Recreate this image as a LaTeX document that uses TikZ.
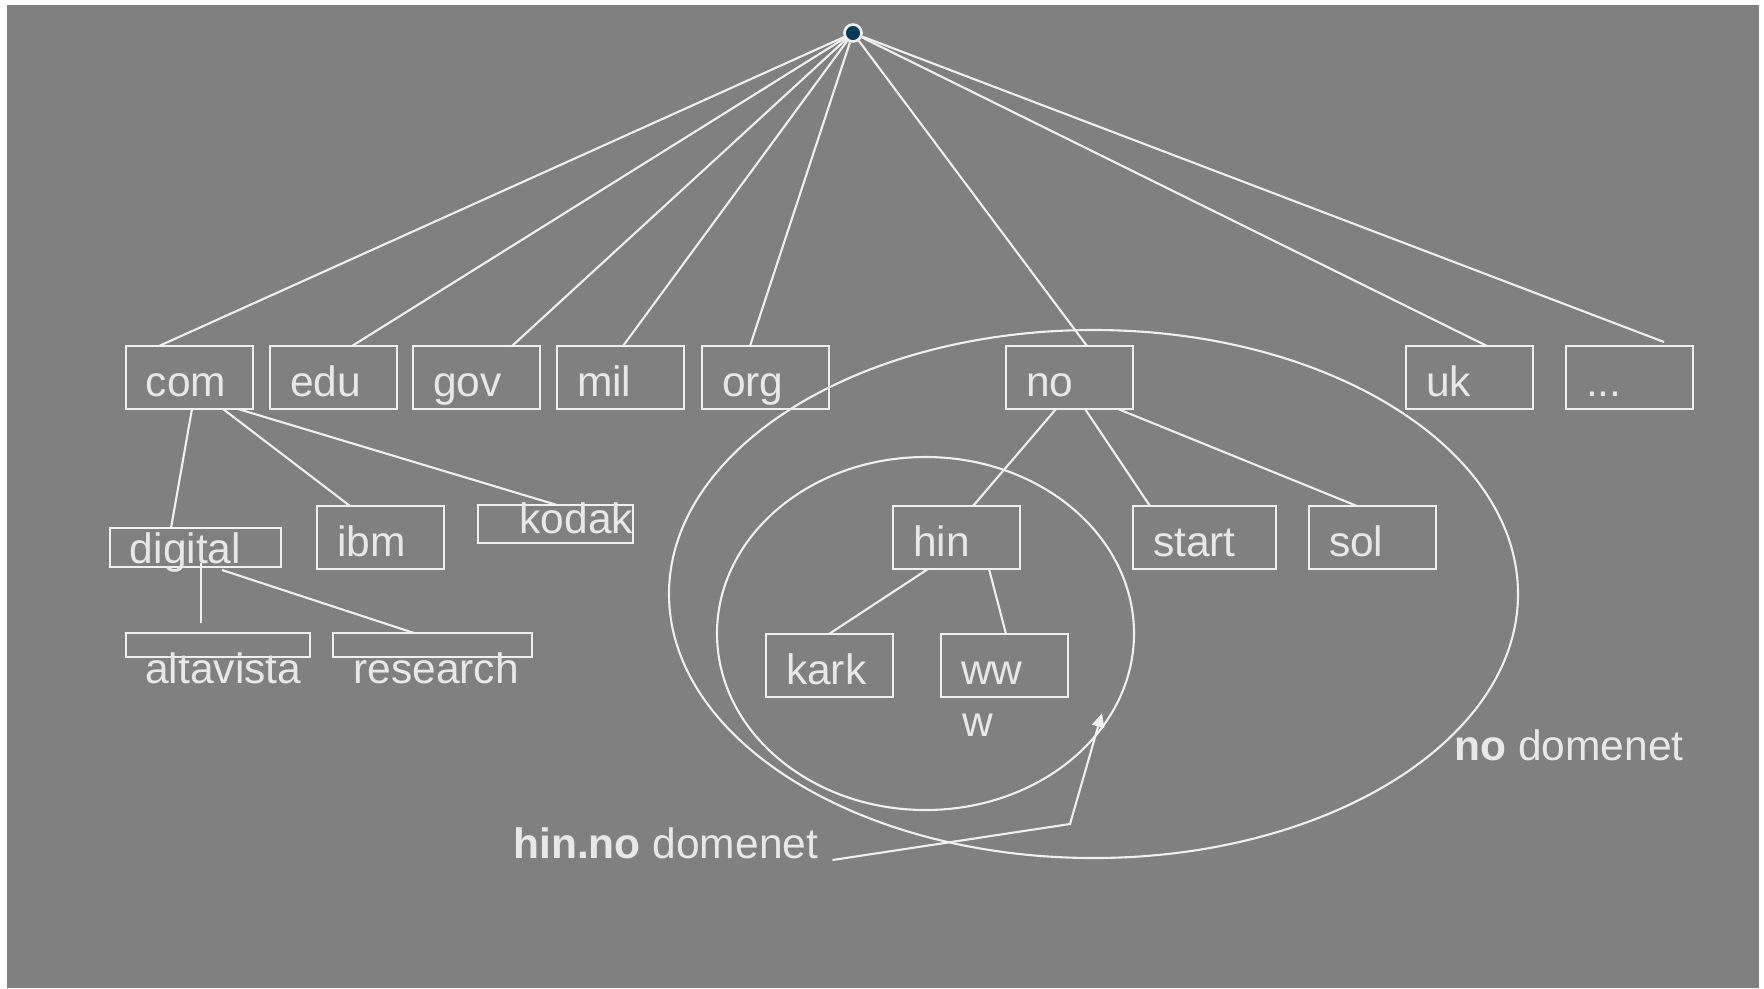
\documentclass[tikz,border=0pt]{standalone}
\usepackage{fontspec}
\setmainfont{Liberation Sans}
\usetikzlibrary{arrows.meta}
\definecolor{bggray}{RGB}{128,128,128}
\definecolor{fg}{RGB}{240,240,240}
\definecolor{txt}{RGB}{232,232,232}
\definecolor{dotblue}{RGB}{0,59,92}
\tikzset{
	edge/.style={draw=fg, line width=1.2pt},
	dom/.style={draw=fg, line width=1.2pt, outer sep=0pt, anchor=north west, inner xsep=0.40cm, inner ysep=0pt, text width=#1, align=left, text height=1.0cm, text depth=0.26cm, text=txt},
	dom/.default=1.74cm,
	bar/.style={draw=fg, line width=1.2pt, outer sep=0pt, anchor=north west, inner sep=0pt, minimum height=0.48cm, minimum width=#1},
	lbl/.style={text=txt, inner sep=0pt, anchor=base west}
}
\begin{document}
\begin{tikzpicture}[x=0.02cm, y=-0.02cm, font={\fontsize{24.2}{28}\selectfont}]
	\useasboundingbox (0,0) rectangle (1764,988);
	\fill[white] (0,0) rectangle (1764,988);
	\fill[bggray] (7,5) rectangle (1759,988);
	% domains
	\draw[edge] (1093.5,594) ellipse [x radius=424.5, y radius=264];
	\draw[edge] (925.5,633.5) ellipse [x radius=208.5, y radius=176.5];
	\node[circle, fill=dotblue, draw=fg, line width=1.5pt, inner sep=0pt, minimum size=0.34cm] (root) at (853,33) {};
	\node[dom] (com) at (126,346) {com};
	\node[dom] (edu) at (270,346) {edu};
	\node[dom] (gov) at (413,346) {gov};
	\node[dom] (mil) at (557,346) {mil};
	\node[dom] (org) at (702,346) {org};
	\node[dom] (no) at (1006,346) {no};
	\node[dom] (uk) at (1406,346) {uk};
	\node[dom] (more) at (1566,346) {...};
	\node[dom=2.62cm, text height=0.7cm, text depth=0.08cm] (digital) at (110,528) {digital};
	\node[dom] (ibm) at (317,506) {ibm};
	\node[dom=3.1cm, inner xsep=0pt, align=right, text height=0.56cm, text depth=0.2cm] (kodak) at (478,505) {kodak};
	\node[bar=3.68cm] (altavista) at (126,633) {};
	\node[bar=3.98cm] (research) at (333,633) {};
	\node[lbl] (altatxt) at ([shift={(19,26)}]altavista.south west) {altavista};
	\node[lbl] (restxt) at ([shift={(20,26)}]research.south west) {research};
	\node[dom] (hin) at (893,506) {hin};
	\node[dom=2.06cm] (start) at (1133,506) {start};
	\node[dom] (sol) at (1309,506) {sol};
	\node[dom] (kark) at (766,634) {kark};
	\node[dom] (ww) at (941,634) {ww};
	\node[lbl] (wtail) at ([shift={(21,39)}]ww.south west) {w};
	\node[lbl] (hinlbl) at (513,858) {\textbf{hin.no} domenet};
	\node[lbl] (nolbl) at (1454,760) {\textbf{no} domenet};
	% from the root
	\draw[edge] (root) -- ([shift={(33,0)}]com.north west);
	\draw[edge] (root) -- ([shift={(82,0)}]edu.north west);
	\draw[edge] (root) -- ([shift={(99,0)}]gov.north west);
	\draw[edge] (root) -- ([shift={(66,0)}]mil.north west);
	\draw[edge] (root) -- ([shift={(48,0)}]org.north west);
	\draw[edge] (root) -- ([shift={(81,0)}]no.north west);
	\draw[edge] (root) -- ([shift={(81,0)}]uk.north west);
	\draw[edge] (root) -- ([shift={(98,-4)}]more.north west);
	% com
	\draw[edge] ([shift={(66,0)}]com.south west) -- ([shift={(61,0)}]digital.north west);
	\draw[edge] ([shift={(97,0)}]com.south west) -- ([shift={(33,0)}]ibm.north west);
	\draw[edge] ([shift={(112,0)}]com.south west) -- ([shift={(79,0)}]kodak.north west);
	\draw[edge] ([shift={(91,-4)}]digital.south west) -- ([shift={(75,-10)}]altavista.north west);
	\draw[edge] ([shift={(112,3)}]digital.south west) -- ([shift={(81,0)}]research.north west);
	% no
	\draw[edge] ([shift={(50,0)}]no.south west) -- ([shift={(80,0)}]hin.north west);
	\draw[edge] ([shift={(79,0)}]no.south west) -- ([shift={(17,0)}]start.north west);
	\draw[edge] ([shift={(112,0)}]no.south west) -- ([shift={(48,0)}]sol.north west);
	\draw[edge] ([shift={(35,0)}]hin.south west) -- ([shift={(63,0)}]kark.north west);
	\draw[edge] ([shift={(96,0)}]hin.south west) -- ([shift={(65,0)}]ww.north west);
	% pointer to hin.no
	\coordinate (kink) at (1070,824);
	\coordinate (tip) at (1102,713);
	\draw[edge, -{Triangle[length=8pt, width=7pt]}] ([shift={(14,2)}]hinlbl.base east) -- (kink) -- (tip);
\end{tikzpicture}
\end{document}
